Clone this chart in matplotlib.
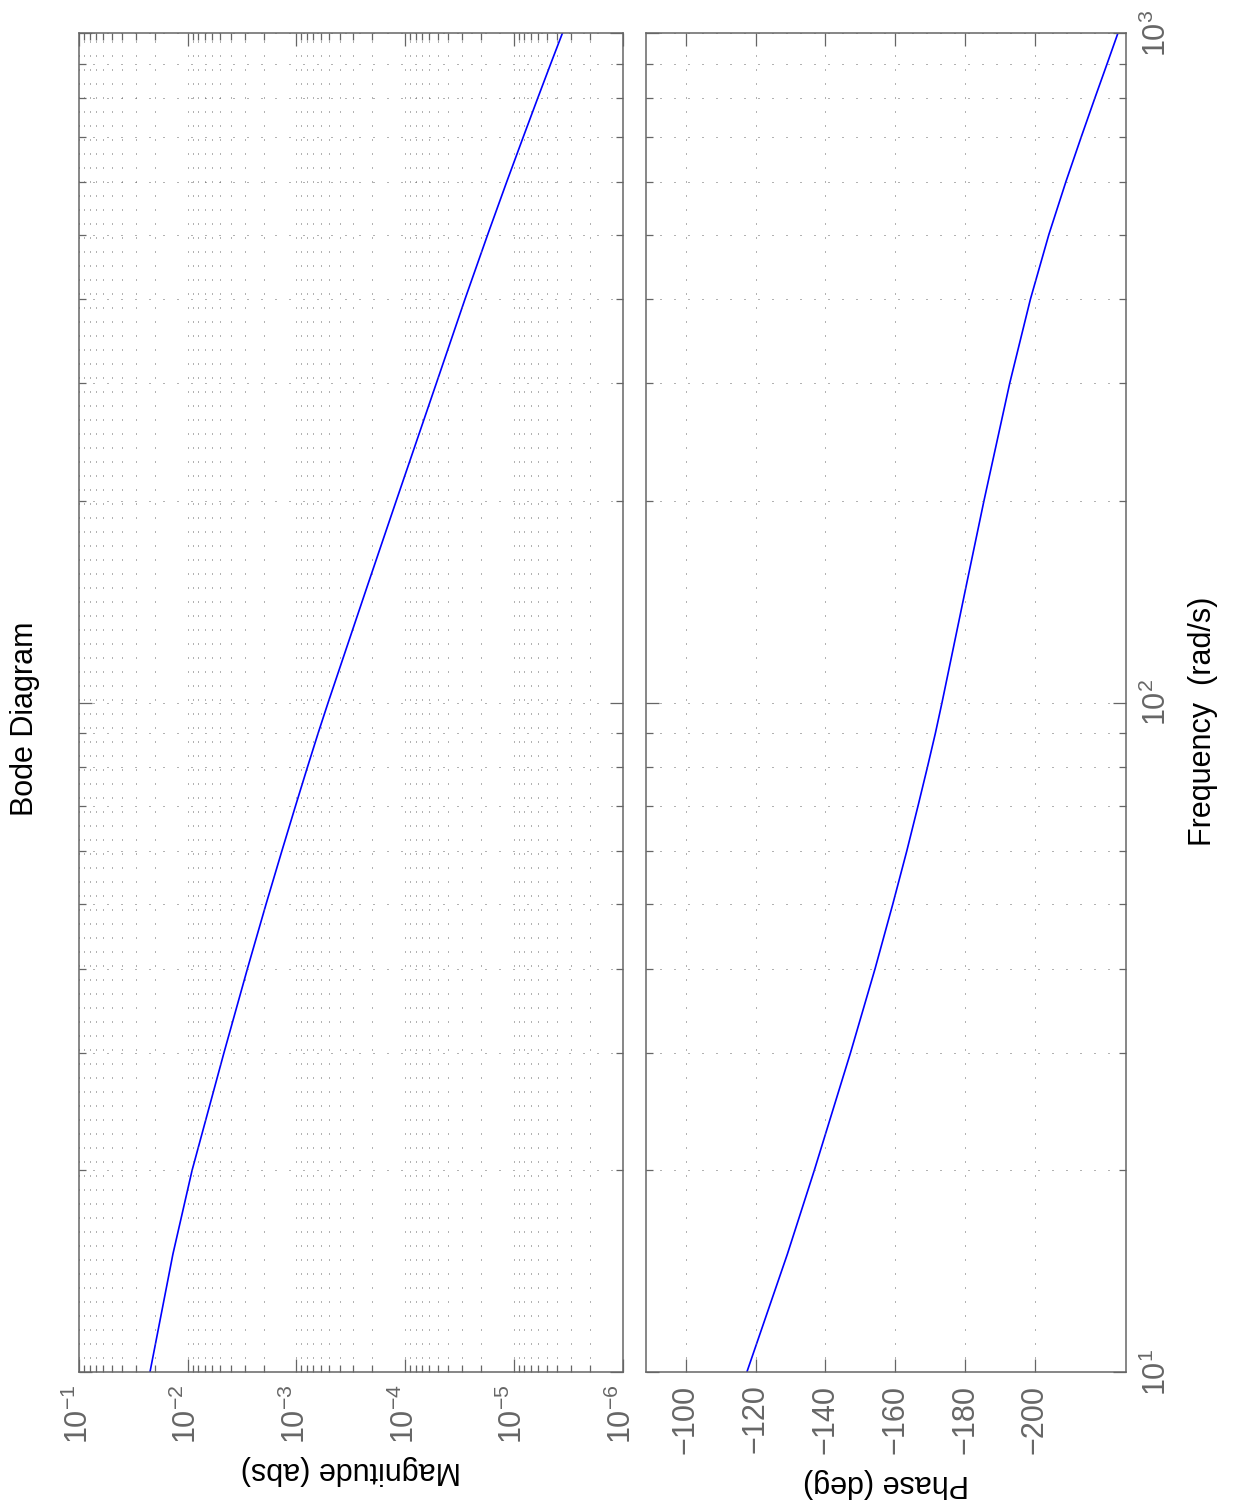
import matplotlib
matplotlib.use("Agg")
import matplotlib.pyplot as plt
from matplotlib.ticker import LogLocator, FixedLocator, NullFormatter

plt.rcParams['font.family'] = ['Liberation Sans', 'DejaVu Sans']

# values
freq = [10, 15, 20, 30, 40, 50, 60, 70, 80, 90, 100,
        150, 200, 300, 400, 500, 600, 700, 800, 900, 1000]
mag = [0.02223, 0.01368, 0.009120, 0.004634, 0.002825, 0.001901, 0.001361,
       0.001021, 7.925e-4, 6.310e-4, 5.105e-4, 2.203e-4, 1.208e-4, 5.152e-5,
       2.818e-5, 1.738e-5, 1.159e-5, 8.166e-6, 6.012e-6, 4.571e-6, 3.565e-6]
phase = [-117.5, -129.1, -136.8, -147.2, -154.2, -159.3, -163.3, -166.5,
         -169.2, -171.5, -173.4, -180.4, -185.4, -192.8, -198.7, -204.0,
         -208.9, -213.3, -217.2, -220.7, -223.8]
phase_ticks = [-100, -120, -140, -160, -180, -200]

W, H = 1235, 1505
fig = plt.figure(figsize=(W / 100, H / 100), dpi=100)

axcol = '#666666'
grid_style = dict(color='0.4', linestyle=(0, (1, 13)), linewidth=0.72)

# magnitude axes (drawn turned on its side)
ax1 = fig.add_axes([79 / W, (H - 1372) / H, (622.5 - 79) / W, 1339 / H])
ax1.plot(mag, freq, color='b', lw=1.2)
ax1.set_xscale('log')
ax1.set_yscale('log')
ax1.set_xlim(1e-1, 1e-6)
ax1.set_ylim(10, 1000)
ax1.xaxis.set_major_locator(LogLocator(base=10))
ax1.xaxis.set_minor_locator(LogLocator(base=10, subs=range(2, 10)))
ax1.xaxis.set_minor_formatter(NullFormatter())
ax1.yaxis.set_minor_locator(LogLocator(base=10, subs=range(2, 10)))
ax1.yaxis.set_minor_formatter(NullFormatter())
ax1.grid(which='both', axis='both', **grid_style)

# phase axes
ax2 = fig.add_axes([646 / W, (H - 1372) / H, (1126 - 646) / W, 1339 / H])
ax2.plot(phase, freq, color='b', lw=1.2)
ax2.set_yscale('log')
ax2.set_xlim(-88.6, -226.1)
ax2.set_ylim(10, 1000)
ax2.xaxis.set_major_locator(FixedLocator(phase_ticks))
ax2.yaxis.set_minor_locator(LogLocator(base=10, subs=range(2, 10)))
ax2.yaxis.set_minor_formatter(NullFormatter())
ax2.grid(which='major', axis='x', **grid_style)
ax2.grid(which='both', axis='y', **grid_style)

for ax in (ax1, ax2):
    for sp in ax.spines.values():
        sp.set_color(axcol)
        sp.set_linewidth(1.1)
    ax.tick_params(which='both', direction='in', top=True, right=True,
                   color=axcol, labelcolor=axcol, labelsize=22, width=0.9)
    ax.tick_params(which='major', length=9.5)
    ax.tick_params(which='minor', length=4.7)
    ax.tick_params(axis='x', labelrotation=90, pad=9)
    ax.set_axisbelow(False)

ax1.tick_params(axis='y', labelleft=False, labelright=False)
ax2.tick_params(axis='y', labelleft=False, labelright=True, labelrotation=90, pad=11)
for lbl in ax2.get_yticklabels():
    lbl.set_va('center')

fig.text(25 / W, 1 - 719 / H, 'Bode Diagram', rotation=90,
         ha='center', va='center', fontsize=22)
fig.text(1203 / W, 1 - 721 / H, 'Frequency  (rad/s)', rotation=90,
         ha='center', va='center', fontsize=22)
fig.text(351 / W, 1 - 1470 / H, 'Magnitude (abs)', rotation=180,
         ha='center', va='center', fontsize=22)
fig.text(886 / W, 1 - 1483 / H, 'Phase (deg)', rotation=180,
         ha='center', va='center', fontsize=22)

fig.savefig('out.png', dpi=100)
